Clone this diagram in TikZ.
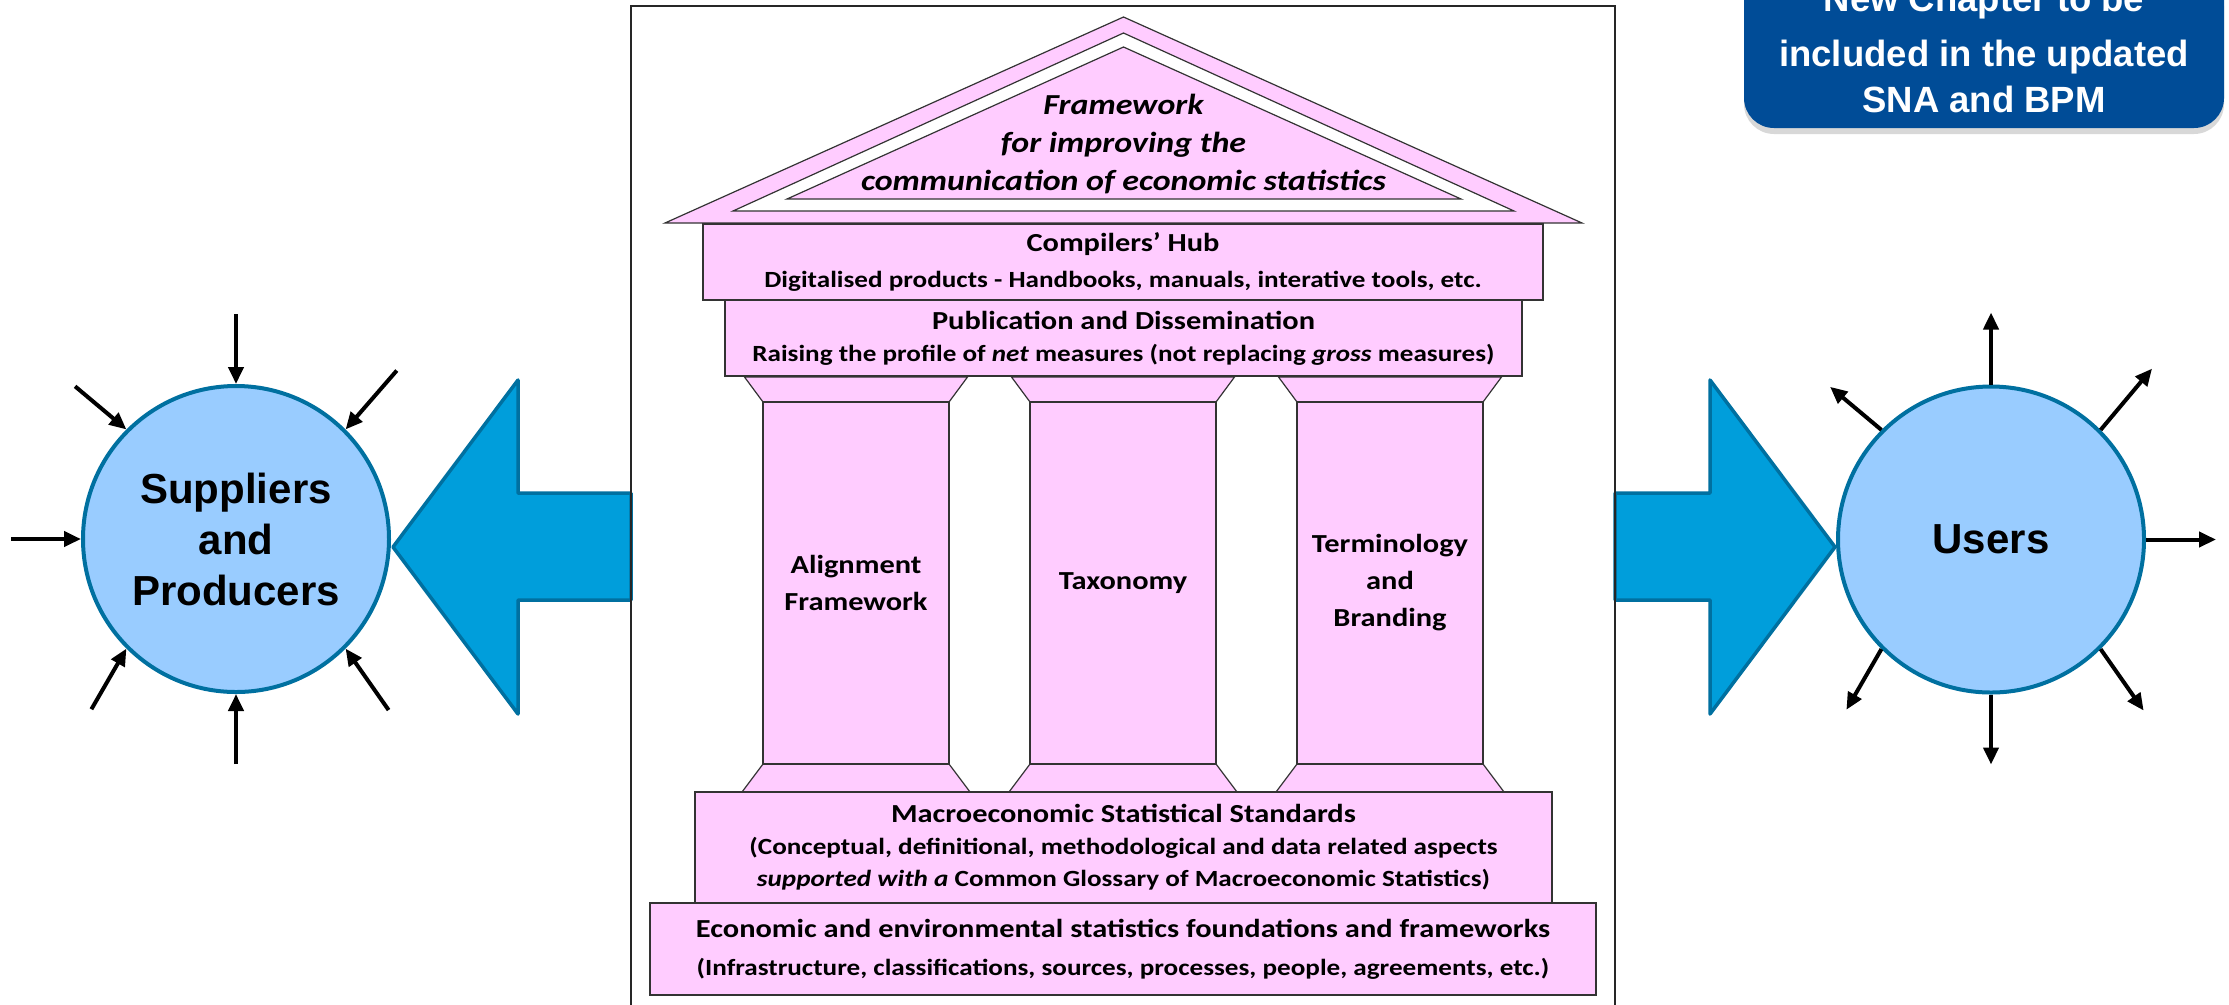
\documentclass[tikz,border=0pt]{standalone}
\usepackage{fontspec}
\newfontfamily\templefont[FakeStretch=1.17]{Carlito}
\newfontfamily\arialfont{Liberation Sans}
\usepackage{tikz}
\usetikzlibrary{arrows.meta,calc,shadows}
\definecolor{templepink}{RGB}{255,204,255}
\definecolor{discblue}{RGB}{153,204,255}
\definecolor{rimblue}{RGB}{0,112,160}
\definecolor{flowblue}{RGB}{0,158,219}
\definecolor{notenavy}{RGB}{0,76,151}
\newcommand\roofsize{\templefont\bfseries\itshape\fontsize{0.29cm}{0.38cm}\selectfont}
\newcommand\slabtitle{\templefont\bfseries\fontsize{0.26cm}{0.37cm}\selectfont}
\newcommand\slabsub{\templefont\bfseries\fontsize{0.232cm}{0.32cm}\selectfont}
\tikzset{
    slab/.style={rectangle, draw=black!80, line width=0.12mm, fill=templepink, inner sep=0pt, align=center, font=\slabsub},
    shaft/.style={slab, minimum width=1.86cm, minimum height=3.62cm, font=\slabtitle},
    flange/.style={draw=black!80, line width=0.12mm, fill=templepink},
    disc/.style={circle, draw=rimblue, line width=0.04cm, fill=discblue, minimum size=3.06cm, inner sep=0pt, align=center, font=\arialfont\bfseries\fontsize{0.42cm}{0.51cm}\selectfont},
    feed/.style={-{Triangle[length=0.17cm,width=0.15cm]}, line width=0.04cm},
    flow/.style={draw=rimblue, fill=flowblue, line width=0.035cm, line join=round}
}
\begin{document}
\begin{tikzpicture}
    \clip (0,0) rectangle (22.29,-10.04);
    \fill[white] (0,0) rectangle (22.29,-10.04);
    % note box
    \draw (19.84,-0.4925) node[rectangle, rounded corners=0.3cm, fill=notenavy, minimum width=4.8cm, minimum height=1.575cm, text=white, align=center, font=\arialfont\bfseries\fontsize{0.365cm}{0.46cm}\selectfont, drop shadow={shadow xshift=0cm, shadow yshift=-0.06cm, opacity=0.3}] (note) {New Chapter to be\\[0.09cm]included in the updated\\SNA and BPM};
    % big arrows
    \draw[flow] (3.93,-5.47) -- (5.18,-3.80) -- (5.18,-4.93) -- (6.31,-4.93) -- (6.31,-6.00) -- (5.18,-6.00) -- (5.18,-7.14) -- cycle;
    \draw[flow] (16.15,-4.93) -- (17.10,-4.93) -- (17.10,-3.80) -- (18.35,-5.47) -- (17.10,-7.14) -- (17.10,-6.00) -- (16.15,-6.00) -- cycle;
    % frame
    \draw[black!85, line width=0.015cm] (6.31,-0.06) rectangle (16.15,-10.3);
    % roof
    \draw[flange] (6.65,-2.23) -- (11.235,-0.17) -- (15.82,-2.23) -- cycle;
    \draw[draw=black!80, line width=0.12mm, fill=white] (7.33,-2.11) -- (11.235,-0.33) -- (15.14,-2.11) -- cycle;
    \draw[flange] (7.87,-1.99) -- (11.235,-0.47) -- (14.61,-1.99) -- cycle;
    \draw (11.235,-1.44) node[font=\roofsize, align=center, inner sep=0pt] (roofnote) {Framework\\for improving the\\communication of economic statistics};
    % upper slabs
    \draw (11.23,-2.62) node[slab, minimum width=8.40cm, minimum height=0.76cm] (hub) {{\slabtitle Compilers’ Hub}\\[0.04cm]Digitalised products - Handbooks, manuals, interative tools, etc.};
    \draw (11.235,-3.38) node[slab, minimum width=7.97cm, minimum height=0.76cm] (publ) {{\slabtitle Publication and Dissemination}\\Raising the profile of \textit{net} measures (not replacing \textit{gross} measures)};
    % pillars
    \foreach \cx/\name/\txt in {8.56/align/{Alignment\\Framework}, 11.23/taxo/{Taxonomy}, 13.90/term/{Terminology\\and\\Branding}} {
        \draw[flange] (\cx-1.115,-3.77) -- (\cx+1.115,-3.77) -- (\cx+0.93,-4.02) -- (\cx-0.93,-4.02) -- cycle;
        \draw[flange] (\cx-0.93,-7.64) -- (\cx+0.93,-7.64) -- (\cx+1.14,-7.92) -- (\cx-1.14,-7.92) -- cycle;
        \draw (\cx,-5.83) node[shaft] (\name) {\txt};
    }
    % lower slabs
    \draw (11.235,-8.475) node[slab, minimum width=8.57cm, minimum height=1.11cm] (macro) {{\slabtitle Macroeconomic Statistical Standards}\\(Conceptual, definitional, methodological and data related aspects\\\textit{supported with a} Common Glossary of Macroeconomic Statistics)};
    \draw (11.23,-9.49) node[slab, minimum width=9.46cm, minimum height=0.92cm] (found) {{\slabtitle Economic and environmental statistics foundations and frameworks}\\[0.06cm](Infrastructure, classifications, sources, processes, people, agreements, etc.)};
    % circles
    \draw (2.36,-5.39) node[disc] (sup) {Suppliers\\and\\Producers};
    \draw (19.91,-5.395) node[disc] (users) {Users};
    \foreach \ang/\dir/\len in {90/90/0.70, 45/49/0.78, 135/140/0.67, 180/180/0.70, 225/240/0.70, 270/270/0.70, 315/305/0.75} {
        \coordinate (sup-src-\ang) at ($(sup.\ang)+(\dir:\len)$);
        \draw[feed] (sup-src-\ang) -- (sup.\ang);
    }
    \foreach \ang/\dir/\len in {90/90/0.72, 45/50/0.80, 135/140/0.67, 0/0/0.70, 225/240/0.70, 270/270/0.70, 315/305/0.75} {
        \coordinate (users-dst-\ang) at ($(users.\ang)+(\dir:\len)$);
        \draw[feed] (users.\ang) -- (users-dst-\ang);
    }
\end{tikzpicture}
\end{document}
